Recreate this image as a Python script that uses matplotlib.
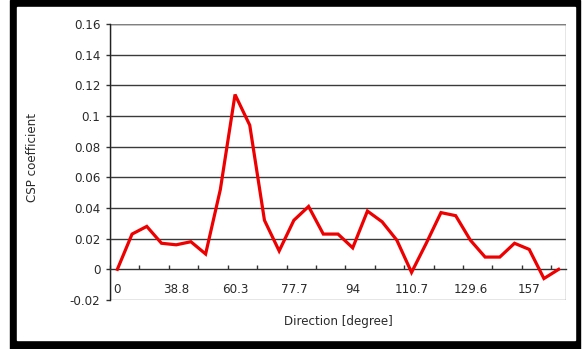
import matplotlib
matplotlib.use("Agg")
import matplotlib.pyplot as plt
from matplotlib.patches import Rectangle
from matplotlib.ticker import FixedLocator, FixedFormatter

# ── data ─────────────────────────────────────
# CSP coefficient for each of the 31 direction bins
csp_values = [
    0.000, 0.023, 0.028, 0.017, 0.016, 0.018, 0.010, 0.052,
    0.114, 0.094, 0.032, 0.012, 0.032, 0.041, 0.023, 0.023,
    0.014, 0.038, 0.031, 0.019, -0.002, 0.017, 0.037, 0.035,
    0.019, 0.008, 0.008, 0.017, 0.013, -0.006, 0.000,
]
# category labels shown on every 4th bin
dir_label_pos = [0, 4, 8, 12, 16, 20, 24, 28]
dir_labels = ["0", "38.8", "60.3", "77.7", "94", "110.7", "129.6", "157"]

y_ticks = [-0.02, 0.0, 0.02, 0.04, 0.06, 0.08, 0.10, 0.12, 0.14, 0.16]
y_tick_labels = ["-0.02", "0", "0.02", "0.04", "0.06", "0.08",
                 "0.1", "0.12", "0.14", "0.16"]

FS = 8.6
TXT = "#2a2a2a"

W, H = 583, 349
fig = plt.figure(figsize=(W / 100, H / 100), dpi=100)
fig.patch.set_facecolor("white")

# black picture frame
fig.patches.append(Rectangle((10 / W, 0), 570 / W, 1.0,
                             transform=fig.transFigure, color="black", zorder=-2))
fig.patches.append(Rectangle((17 / W, 9 / H), 558 / W, 333 / H,
                             transform=fig.transFigure, color="white", zorder=-1))

ax = fig.add_axes([110 / W, 49 / H, 456 / W, 276 / H])
ax.set_zorder(2)
ax.set_facecolor("none")

n = len(csp_values)
x = list(range(n))
ax.plot(x, csp_values, color="#ee0000", lw=2.3, zorder=5, solid_joinstyle="miter")

ax.set_xlim(-0.5, n - 0.5)
ax.set_ylim(-0.02, 0.16)

# horizontal gridlines
for v in y_ticks[2:]:
    ax.axhline(v, color="#3a3a3a", lw=1.0, zorder=1)

# plot-area border
ax.add_patch(Rectangle((0, 0), 1, 1, transform=ax.transAxes, fill=False,
                       edgecolor="#808080", lw=1.0, zorder=2))

for s in ["top", "right"]:
    ax.spines[s].set_visible(False)
ax.spines["left"].set_color("#222222")
ax.spines["left"].set_linewidth(1.0)
ax.spines["bottom"].set_position(("data", 0))
ax.spines["bottom"].set_color("#333333")
ax.spines["bottom"].set_linewidth(1.0)
ax.spines["bottom"].set_zorder(3)

# x axis: labels on bin centres, tick marks between every 2nd bin
ax.xaxis.set_major_locator(FixedLocator(dir_label_pos))
ax.xaxis.set_major_formatter(FixedFormatter(dir_labels))
ax.xaxis.set_minor_locator(FixedLocator([-0.5 + 2 * k for k in range(16)]))
ax.tick_params(axis="x", which="major", length=0, pad=10, labelsize=FS,
               labelcolor=TXT)
ax.tick_params(axis="x", which="minor", direction="in", length=3,
               width=1, color="#333333")

ax.yaxis.set_major_locator(FixedLocator(y_ticks))
ax.yaxis.set_major_formatter(FixedFormatter(y_tick_labels))
ax.tick_params(axis="y", direction="out", length=3, width=1, color="#333333",
               pad=4, labelsize=FS, labelcolor=TXT)

fig.text(33 / W, 1 - 157 / H, "CSP coefficient", rotation=90,
         ha="center", va="center", fontsize=FS, color=TXT)
fig.text(338 / W, 1 - 322 / H, "Direction [degree]",
         ha="center", va="center", fontsize=FS, color=TXT)

fig.savefig("out.png", dpi=100)
